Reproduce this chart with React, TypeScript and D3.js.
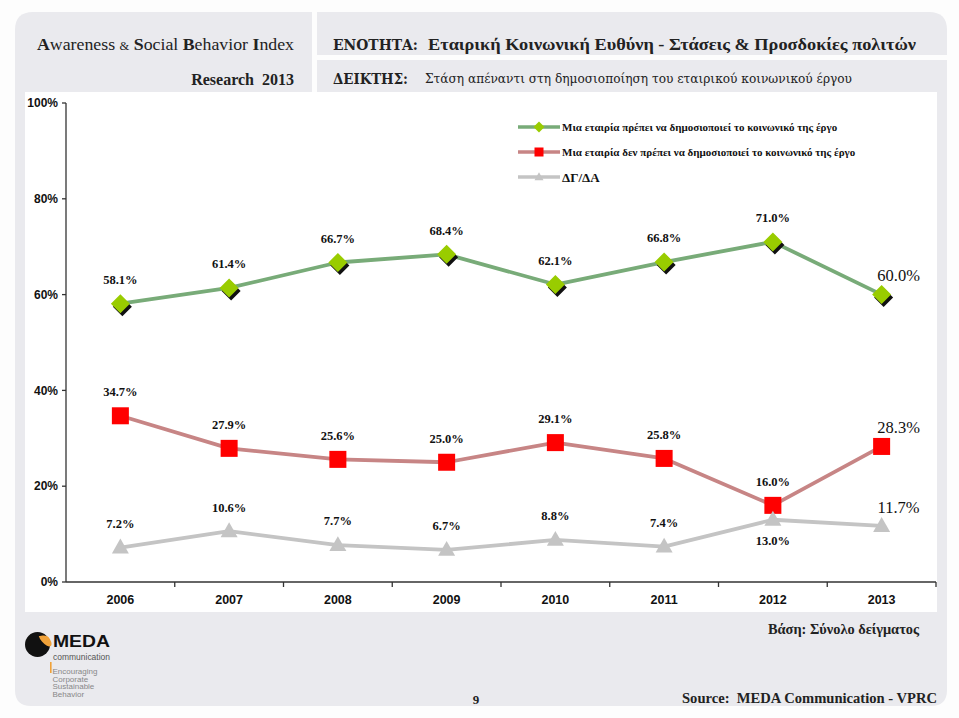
import React from "react";
import * as d3 from "d3";

const years = ["2006", "2007", "2008", "2009", "2010", "2011", "2012", "2013"];
const mustPublish = [58.1, 61.4, 66.7, 68.4, 62.1, 66.8, 71.0, 60.0];
const mustNotPublish = [34.7, 27.9, 25.6, 25.0, 29.1, 25.8, 16.0, 28.3];
const dontKnow = [7.2, 10.6, 7.7, 6.7, 8.8, 7.4, 13.0, 11.7];
const yTicks = [0, 20, 40, 60, 80, 100];
const seriesNames = [
  "Μια εταιρία πρέπει να δημοσιοποιεί το κοινωνικό της έργο",
  "Μια εταιρία δεν πρέπει να δημοσιοποιεί το κοινωνικό της έργο",
  "ΔΓ/ΔΑ",
];

const W = 959;
const H = 718;
const GRAY = "#eaeaee";
const SERIF = "'Liberation Serif', 'DejaVu Serif', serif";
const GSERIF = "'DejaVu Serif', 'Liberation Serif', serif";
const SANS = "'Liberation Sans', Arial, sans-serif";

type Kind = "diamond" | "square" | "triangle";

function Marker({ kind, x, y, s, shadow }: { kind: Kind; x: number; y: number; s: number; shadow?: boolean }) {
  if (kind === "diamond") {
    const p = (cx: number, cy: number) => `M${cx},${cy - s} L${cx + s},${cy} L${cx},${cy + s} L${cx - s},${cy} Z`;
    return (
      <g>
        {shadow && <path d={p(x + 2, y + 3)} fill="#111" />}
        <path d={p(x, y)} fill="#99cc00" />
      </g>
    );
  }
  if (kind === "square") {
    return <rect x={x - s} y={y - s} width={2 * s} height={2 * s} fill="#ff0000" />;
  }
  const h = s * 1.75;
  return (
    <path
      d={`M${x},${y - h * 0.6} L${x + s},${y + h * 0.4} L${x - s},${y + h * 0.4} Z`}
      fill="#c4c4c4"
    />
  );
}

export default function App() {
  const plotL = 66;
  const plotR = 936;
  const plotT = 103;
  const plotB = 582;

  const x = d3.scaleBand<string>().domain(years).range([plotL, plotR]);
  const y = d3.scaleLinear().domain([0, 100]).range([plotB, plotT]);
  const cx = (i: number) => (x(years[i]) as number) + x.bandwidth() / 2;

  const line = d3
    .line<number>()
    .x((_, i) => cx(i))
    .y((d) => y(d));

  const series: { values: number[]; color: string; kind: Kind; size: number }[] = [
    { values: mustPublish, color: "#78ab78", kind: "diamond", size: 9.5 },
    { values: mustNotPublish, color: "#c78585", kind: "square", size: 8.5 },
    { values: dontKnow, color: "#c4c4c4", kind: "triangle", size: 8.5 },
  ];

  const labels: { x: number; y: number; text: string; big: boolean }[] = [];
  series.forEach((s, si) => {
    s.values.forEach((v, i) => {
      const px = cx(i);
      const py = y(v);
      const last = i === years.length - 1;
      if (last) {
        labels.push({ x: px + 17, y: py - 19, text: v.toFixed(1) + "%", big: true });
        return;
      }
      const above = py - 24;
      const clash = series.some((o, oi) => oi !== si && Math.abs(y(o.values[i]) - above) < 16);
      labels.push({ x: px, y: clash ? py + 21 : above, text: v.toFixed(1) + "%", big: false });
    });
  });

  const legendY = [127, 152, 177];

  return (
    <svg
      width={W}
      height={H}
      style={{ position: "absolute", left: 0, top: 0, background: "#fdfdfd" }}
      xmlns="http://www.w3.org/2000/svg"
    >
      {/* frame */}
      <path d={`M15,92 L15,30 Q15,12 33,12 L312,12 L312,92 Z`} fill={GRAY} />
      <path d={`M317,55 L317,12 L929,12 Q947,12 947,30 L947,55 Z`} fill={GRAY} />
      <rect x={317} y={60} width={630} height={32} fill={GRAY} />
      <path d={`M15,92 L947,92 L947,690 Q947,706 931,706 L31,706 Q15,706 15,690 Z`} fill={GRAY} />
      <rect x={25} y={92} width={912} height={520} fill="#ffffff" />

      {/* header texts */}
      <text x={37} y={50} fontFamily={SERIF} fontSize={17} fill="#222" textLength={257} lengthAdjust="spacingAndGlyphs">
        <tspan fontWeight="bold">A</tspan>wareness <tspan fontSize={12}>&amp;</tspan> <tspan fontWeight="bold">S</tspan>ocial{" "}
        <tspan fontWeight="bold">B</tspan>ehavior <tspan fontWeight="bold">I</tspan>ndex
      </text>
      <text x={294} y={85} fontFamily={SERIF} fontSize={16} fontWeight="bold" fill="#222" textAnchor="end" style={{ whiteSpace: "pre" }}>
        Research  2013
      </text>
      <text x={333} y={50} fontFamily={GSERIF} fontSize={15} fontWeight="bold" fill="#222" textLength={85} lengthAdjust="spacingAndGlyphs">
        ΕΝΟΤΗΤΑ:
      </text>
      <text x={428} y={50} fontFamily={SERIF} fontSize={17.5} fontWeight="bold" fill="#222" textLength={488} lengthAdjust="spacingAndGlyphs">
        Εταιρική Κοινωνική Ευθύνη - Στάσεις &amp; Προσδοκίες πολιτών
      </text>
      <text x={333} y={84} fontFamily={GSERIF} fontSize={14} fontWeight="bold" fill="#222" textLength={75} lengthAdjust="spacingAndGlyphs">
        ΔΕΙΚΤΗΣ:
      </text>
      <text x={425} y={83} fontFamily={GSERIF} fontSize={12.5} fill="#222" textLength={427} lengthAdjust="spacingAndGlyphs">
        Στάση απέναντι στη δημοσιοποίηση του εταιρικού κοινωνικού έργου
      </text>

      {/* axes */}
      <line x1={plotL} x2={plotL} y1={plotT} y2={plotB} stroke="#333" strokeWidth={1.3} />
      <line x1={plotL} x2={plotR} y1={plotB} y2={plotB} stroke="#333" strokeWidth={1.3} />
      {yTicks.map((t) => (
        <g key={t}>
          <line x1={plotL - 4} x2={plotL} y1={y(t)} y2={y(t)} stroke="#333" strokeWidth={1.3} />
          <text
            x={plotL - 8}
            y={y(t)}
            dy="0.35em"
            textAnchor="end"
            fontFamily={SANS}
            fontWeight="bold"
            fontSize={12}
            fill="#111"
          >
            {t}%
          </text>
        </g>
      ))}
      {years.map((yr, i) => (
        <g key={yr}>
          <line
            x1={(x(yr) as number) + x.bandwidth()}
            x2={(x(yr) as number) + x.bandwidth()}
            y1={plotB}
            y2={plotB + 5}
            stroke="#333"
            strokeWidth={1.3}
          />
          <text x={cx(i)} y={604} textAnchor="middle" fontFamily={SANS} fontWeight="bold" fontSize={12.5} fill="#111">
            {yr}
          </text>
        </g>
      ))}

      {/* lines */}
      {series.map((s, si) => (
        <path key={si} d={line(s.values) || ""} fill="none" stroke={s.color} strokeWidth={3.8} strokeLinejoin="round" />
      ))}
      {series.map((s, si) => (
        <g key={si}>
          {s.values.map((v, i) => (
            <Marker key={i} kind={s.kind} x={cx(i)} y={y(v)} s={s.size} shadow={s.kind === "diamond"} />
          ))}
        </g>
      ))}

      {/* data labels */}
      {labels.map((l, i) => (
        <text
          key={i}
          x={l.x}
          y={l.y}
          dy="0.35em"
          textAnchor="middle"
          fontFamily={SERIF}
          fontWeight={l.big ? "normal" : "bold"}
          fontSize={l.big ? 16.5 : 12.5}
          fill="#111"
        >
          {l.text}
        </text>
      ))}

      {/* legend */}
      {series.map((s, si) => (
        <g key={si}>
          <line x1={518} x2={560} y1={legendY[si]} y2={legendY[si]} stroke={s.color} strokeWidth={3.5} />
          <Marker kind={s.kind} x={539} y={legendY[si]} s={s.kind === "diamond" ? 5.5 : 4.5} />
          <text
            x={562}
            y={legendY[si]}
            dy="0.35em"
            fontFamily={SERIF}
            fontWeight="bold"
            fontSize={si === 2 ? 13 : 11}
            fill="#111"
          >
            {seriesNames[si]}
          </text>
        </g>
      ))}

      {/* footer */}
      <defs>
        <clipPath id="logoClip">
          <circle cx={37.5} cy={644.5} r={12.5} />
        </clipPath>
      </defs>
      <circle cx={37.5} cy={644.5} r={12.5} fill="#111" />
      <ellipse
        cx={45}
        cy={639}
        rx={4}
        ry={9}
        transform="rotate(-40 45 639)"
        fill="#f0a23a"
        clipPath="url(#logoClip)"
      />
      <text x={53} y={647} fontFamily={SANS} fontWeight="bold" fontSize={17} fill="#111" textLength={57} lengthAdjust="spacingAndGlyphs">
        MEDA
      </text>
      <text x={53} y={660} fontFamily={SANS} fontSize={9.5} fill="#555" textLength={57} lengthAdjust="spacingAndGlyphs">
        communication
      </text>
      <rect x={50} y={662} width={1.6} height={11} fill="#f0a23a" />
      {["Encouraging", "Corporate", "Sustainable", "Behavior"].map((t, i) => (
        <text key={t} x={52.5} y={674 + i * 7.5} fontFamily={SANS} fontSize={8} fill="#888">
          {t}
        </text>
      ))}
      <text x={919} y={634} textAnchor="end" fontFamily={SERIF} fontWeight="bold" fontSize={14.5} fill="#222" textLength={151} lengthAdjust="spacingAndGlyphs">
        Βάση: Σύνολο δείγματος
      </text>
      <text x={476} y={704} textAnchor="middle" fontFamily={SERIF} fontWeight="bold" fontSize={13} fill="#222">
        9
      </text>
      <text x={682} y={703} fontFamily={SERIF} fontWeight="bold" fontSize={15.5} fill="#222" textLength={255} lengthAdjust="spacingAndGlyphs" style={{ whiteSpace: "pre" }}>
        Source:  MEDA Communication - VPRC
      </text>
    </svg>
  );
}
